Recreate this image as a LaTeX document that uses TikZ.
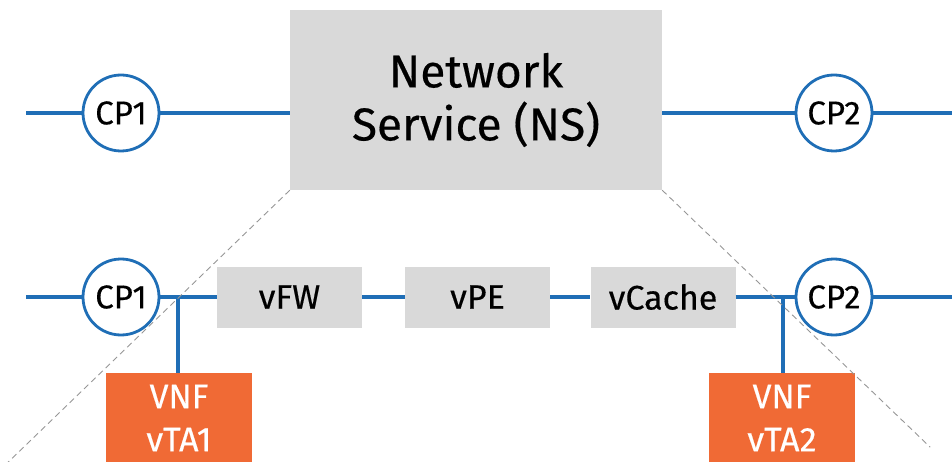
\documentclass[tikz,border=0pt]{standalone}
\usepackage{fontspec}
\setmainfont{Fira Sans}
\newfontfamily\labelfont{Fira Sans}[FakeBold=0.35]
\usetikzlibrary{positioning}
\definecolor{linkblue}{RGB}{31,110,182}
\definecolor{vnforange}{RGB}{240,106,53}
\definecolor{boxgray}{RGB}{217,217,217}
\definecolor{hintgray}{RGB}{150,150,150}
\tikzset{
	cp/.style={circle,draw=linkblue,line width=2.8pt,fill=white,inner sep=0pt,minimum size=76pt,font=\labelfont\fontsize{33}{36}\selectfont},
	vnfc/.style={fill=boxgray,inner sep=0pt,minimum width=145pt,minimum height=61pt,font=\labelfont\fontsize{34}{36}\selectfont},
	vnf/.style={fill=vnforange,text=white,inner sep=0pt,align=center,minimum width=146pt,minimum height=90pt,font=\labelfont\fontsize{34}{43}\selectfont},
	link/.style={draw=linkblue,line width=3.5pt},
	zoomline/.style={draw=hintgray,line width=0.9pt,dash pattern=on 6pt off 4pt}
}

\begin{document}
\begin{tikzpicture}[x=1pt,y=-1pt]
\useasboundingbox (0,0) rectangle (952,462);
\clip (0,0) rectangle (952,462);

\node [fill=boxgray,inner sep=0pt,minimum width=372pt,minimum height=180pt,align=center,font=\labelfont\fontsize{46}{53}\selectfont] (ns) at (476,100) {Network\\Service (NS)};
\node [cp] (cpa1) at (121,113) {CP1};
\node [cp] (cpa2) at (834,113) {CP2};
\coordinate (ina) at (26,113);
\coordinate (outa) at (952,113);

\node [cp] (cpb1) at (121,297) {CP1};
\node [cp] (cpb2) at (834,297) {CP2};
\node [vnfc] (vfw) at (289.5,297) {vFW};
\node [vnfc] (vpe) at (477.5,297) {vPE};
\node [vnfc] (vcache) at (663,297) {vCache};
\node [vnf] (vta1) at (179,418) {VNF\\vTA1};
\node [vnf] (vta2) at (782,418) {VNF\\vTA2};
\coordinate (inb) at (26,297);
\coordinate (outb) at (952,297);
\coordinate (j1) at (178,297);
\coordinate (j2) at (783,297);

\draw [link]
(ina) -- (cpa1) -- (cpa1 -| ns.west)
(cpa2 -| ns.east) -- (cpa2) -- (outa)
(inb) -- (cpb1) -- (vfw) -- (vpe) -- (vcache) -- (cpb2) -- (outb)
(j1) -- (j1 |- vta1.north)
(j2) -- (j2 |- vta2.north)
;
% zoom into the NS
\draw [zoomline] (ns.south west) -- ++(-290,280);
\draw [zoomline] (ns.south east) -- ++(268,257);
\end{tikzpicture}
\end{document}
